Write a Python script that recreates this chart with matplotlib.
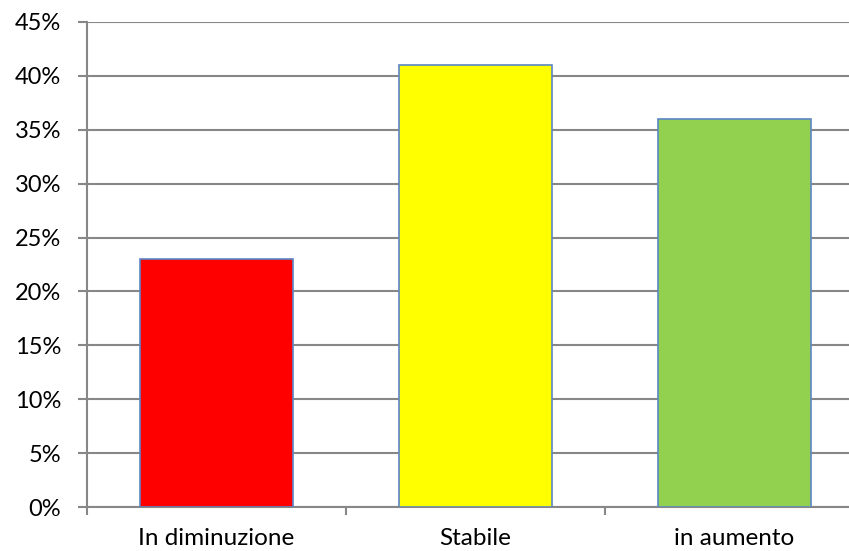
import matplotlib
matplotlib.use("Agg")
import matplotlib.pyplot as plt
import numpy as np

categories = ["In diminuzione", "Stabile", "in aumento"]
values = [23, 41, 36]
colors = ["#FF0000", "#FFFF00", "#92D050"]
yticks = [0, 5, 10, 15, 20, 25, 30, 35, 40, 45]

W, H = 849, 551
fig = plt.figure(figsize=(W / 100, H / 100), dpi=100)
ax = fig.add_axes([87 / W, (H - 507) / H, (864 - 87) / W, (507 - 22) / H])

x = np.arange(len(categories))
ax.bar(x, values, width=0.59, color=colors, edgecolor="#5B86C5", linewidth=1.2, zorder=3)

ax.set_xlim(-0.5, len(categories) - 0.5)
ax.set_ylim(0, 45)
ax.set_yticks(yticks)
ax.set_yticklabels([f"{v}%" for v in yticks])
ax.set_xticks(x)
ax.set_xticklabels(categories)
ax.set_xticks(np.arange(len(categories) + 1) - 0.5, minor=True)

ax.grid(axis="y", color="#878787", linewidth=1.5, zorder=0)
for s in ["top", "right"]:
    ax.spines[s].set_visible(False)
for s in ["left", "bottom"]:
    ax.spines[s].set_color("#878787")
    ax.spines[s].set_linewidth(1.5)

ax.tick_params(axis="y", length=6.5, width=1.5, color="#878787", labelsize=17, pad=12)
ax.tick_params(axis="x", which="major", length=0, labelsize=17.5, pad=15)
ax.tick_params(axis="x", which="minor", length=6, width=1.5, color="#878787")
for lab in ax.get_xticklabels() + ax.get_yticklabels():
    lab.set_fontfamily("Lato")

fig.savefig("out.png", dpi=100)
